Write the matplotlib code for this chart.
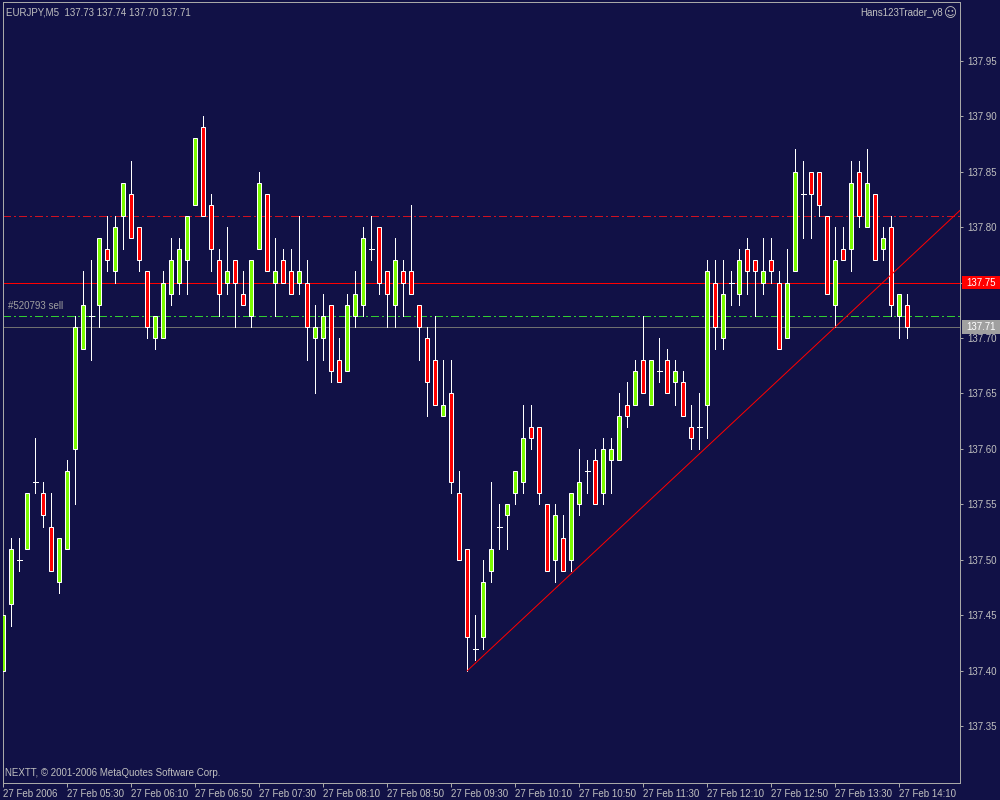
import matplotlib
matplotlib.use("Agg")
import matplotlib.pyplot as plt
from matplotlib.patches import Rectangle

# Colors (MetaTrader style)
bg_color = "#111146"
frame_color = "#A8A8A8"
text_color = "#C0C0C0"
bull_color = "#7CFC00"
bear_color = "#FF0000"
wick_color = "#FFFFFF"
red_line_color = "#FF0000"
green_line_color = "#32CD32"
bid_line_color = "#707070"

# EURJPY M5 bars, 27 Feb 2006 from 04:50
opens = [137.40, 137.46, 137.50, 137.51, 137.57, 137.56, 137.53, 137.48, 137.51, 137.60,
         137.69, 137.72, 137.73, 137.78, 137.76, 137.81, 137.83, 137.80, 137.76, 137.70,
         137.70, 137.74, 137.75, 137.77, 137.82, 137.89, 137.82, 137.77, 137.75, 137.77,
         137.74, 137.72, 137.78, 137.83, 137.75, 137.77, 137.76, 137.75, 137.75, 137.70,
         137.70, 137.73, 137.68, 137.67, 137.72, 137.73, 137.78, 137.80, 137.76, 137.73,
         137.76, 137.76, 137.73, 137.70, 137.68, 137.63, 137.65, 137.56, 137.51, 137.42,
         137.43, 137.49, 137.53, 137.54, 137.56, 137.57, 137.62, 137.62, 137.55, 137.50,
         137.52, 137.50, 137.55, 137.58, 137.59, 137.56, 137.59, 137.59, 137.64, 137.64,
         137.68, 137.64, 137.67, 137.68, 137.66, 137.66, 137.62, 137.62, 137.64, 137.75,
         137.70, 137.75, 137.74, 137.78, 137.77, 137.75, 137.77, 137.75, 137.70, 137.76,
         137.83, 137.85, 137.85, 137.81, 137.73, 137.78, 137.78, 137.85, 137.80, 137.83,
         137.78, 137.80, 137.72, 137.73]
highs = [137.45, 137.52, 137.52, 137.56, 137.61, 137.57, 137.56, 137.52, 137.59, 137.72,
         137.76, 137.77, 137.79, 137.81, 137.81, 137.84, 137.86, 137.80, 137.76, 137.72,
         137.76, 137.79, 137.79, 137.81, 137.88, 137.90, 137.83, 137.78, 137.80, 137.77,
         137.76, 137.77, 137.85, 137.83, 137.79, 137.78, 137.78, 137.81, 137.77, 137.73,
         137.74, 137.73, 137.70, 137.74, 137.76, 137.80, 137.81, 137.80, 137.76, 137.79,
         137.77, 137.82, 137.73, 137.71, 137.72, 137.68, 137.68, 137.58, 137.51, 137.45,
         137.50, 137.57, 137.55, 137.55, 137.58, 137.64, 137.64, 137.62, 137.55, 137.55,
         137.54, 137.56, 137.60, 137.59, 137.60, 137.61, 137.61, 137.65, 137.66, 137.68,
         137.72, 137.68, 137.70, 137.69, 137.68, 137.67, 137.64, 137.65, 137.77, 137.77,
         137.77, 137.76, 137.78, 137.79, 137.77, 137.79, 137.79, 137.76, 137.78, 137.87,
         137.86, 137.85, 137.85, 137.81, 137.80, 137.80, 137.86, 137.86, 137.87, 137.83,
         137.80, 137.81, 137.74, 137.74]
lows = [137.40, 137.44, 137.49, 137.51, 137.56, 137.53, 137.49, 137.47, 137.51, 137.55,
        137.69, 137.68, 137.71, 137.76, 137.75, 137.78, 137.79, 137.76, 137.70, 137.69,
        137.70, 137.73, 137.74, 137.74, 137.82, 137.81, 137.76, 137.72, 137.74, 137.71,
        137.73, 137.71, 137.78, 137.76, 137.72, 137.75, 137.74, 137.74, 137.68, 137.65,
        137.68, 137.66, 137.66, 137.67, 137.71, 137.72, 137.77, 137.74, 137.71, 137.71,
        137.72, 137.74, 137.68, 137.63, 137.64, 137.63, 137.56, 137.50, 137.40, 137.41,
        137.42, 137.48, 137.51, 137.51, 137.55, 137.56, 137.60, 137.55, 137.49, 137.48,
        137.49, 137.49, 137.54, 137.56, 137.55, 137.55, 137.56, 137.59, 137.62, 137.64,
        137.65, 137.64, 137.66, 137.65, 137.64, 137.63, 137.60, 137.60, 137.61, 137.69,
        137.69, 137.73, 137.73, 137.74, 137.72, 137.74, 137.75, 137.69, 137.70, 137.76,
        137.79, 137.79, 137.81, 137.74, 137.71, 137.77, 137.76, 137.80, 137.80, 137.77,
        137.77, 137.72, 137.70, 137.70]
closes = [137.45, 137.51, 137.50, 137.56, 137.57, 137.54, 137.49, 137.52, 137.58, 137.71,
          137.73, 137.72, 137.79, 137.77, 137.80, 137.84, 137.79, 137.77, 137.71, 137.72,
          137.75, 137.77, 137.78, 137.81, 137.88, 137.81, 137.78, 137.74, 137.76, 137.75,
          137.73, 137.77, 137.84, 137.76, 137.76, 137.75, 137.74, 137.76, 137.71, 137.71,
          137.72, 137.67, 137.66, 137.73, 137.74, 137.79, 137.78, 137.75, 137.74, 137.77,
          137.75, 137.74, 137.71, 137.66, 137.64, 137.64, 137.57, 137.50, 137.43, 137.42,
          137.48, 137.51, 137.53, 137.55, 137.58, 137.61, 137.61, 137.56, 137.49, 137.54,
          137.49, 137.56, 137.57, 137.58, 137.55, 137.60, 137.60, 137.63, 137.63, 137.67,
          137.65, 137.68, 137.67, 137.65, 137.67, 137.63, 137.61, 137.62, 137.76, 137.71,
          137.74, 137.75, 137.77, 137.76, 137.76, 137.76, 137.76, 137.69, 137.75, 137.85,
          137.83, 137.83, 137.82, 137.74, 137.77, 137.77, 137.84, 137.81, 137.84, 137.77,
          137.79, 137.73, 137.74, 137.71]

# Time axis: a label every 8 bars (40 minutes)
time_tick_bars = [0, 8, 16, 24, 32, 40, 48, 56, 64, 72, 80, 88, 96, 104, 112]
time_labels = ["27 Feb 2006", "27 Feb 05:30", "27 Feb 06:10", "27 Feb 06:50",
               "27 Feb 07:30", "27 Feb 08:10", "27 Feb 08:50", "27 Feb 09:30",
               "27 Feb 10:10", "27 Feb 10:50", "27 Feb 11:30", "27 Feb 12:10",
               "27 Feb 12:50", "27 Feb 13:30", "27 Feb 14:10"]
price_ticks = [137.35, 137.40, 137.45, 137.50, 137.55, 137.60, 137.65,
               137.70, 137.75, 137.80, 137.85, 137.90, 137.95]

# Horizontal lines / objects
level_dashed_red = 137.81
level_solid_red = 137.75
level_order = 137.72
level_bid = 137.71
order_label = "#520793 sell"
trend_start = (58, 137.40)
trend_through = (104, 137.71)

header = "EURJPY,M5  137.73 137.74 137.70 137.71"
indicator_name = "Hans123Trader_v8"
copyright_text = "NEXTT, \u00a9 2001-2006 MetaQuotes Software Corp."

font = "Liberation Sans"
fs = 7
px = 0.72  # one pixel in points at dpi 100

fig = plt.figure(figsize=(10, 8), dpi=100)
fig.patch.set_facecolor(bg_color)
ax = fig.add_axes([2.5 / 1000, 17.3 / 800, 957.5 / 1000, 780.7 / 800])
ax.set_facecolor(bg_color)

# Axis limits (8 px per bar, 1109 px per 1.00 of price)
ax.set_xlim(-0.1, 119.59)
ax.set_ylim(137.2990, 138.0030)

# Horizontal lines (crisp, one pixel)
plt.rcParams["lines.scale_dashes"] = False
dash_dot = (8 * px, 3 * px, 2 * px, 3 * px)
ax.axhline(level_dashed_red, color="#D01020", lw=1 * px, dashes=dash_dot, antialiased=False, zorder=1)
ax.axhline(level_solid_red, color=red_line_color, lw=1 * px, antialiased=False, zorder=1)
ax.axhline(level_order, color=green_line_color, lw=1 * px, dashes=dash_dot, antialiased=False, zorder=1)
ax.axhline(level_bid, color=bid_line_color, lw=1 * px, antialiased=False, zorder=1)

# Trend line from the low, extended to the right edge
slope = (trend_through[1] - trend_start[1]) / (trend_through[0] - trend_start[0])
x_end = ax.get_xlim()[1]
ax.plot([trend_start[0], x_end],
        [trend_start[1], trend_start[1] + slope * (x_end - trend_start[0])],
        color=red_line_color, lw=1 * px, zorder=4, clip_on=True)

# Candles
body_w = 0.5
for i in range(len(opens)):
    o, h, l, c = opens[i], highs[i], lows[i], closes[i]
    ax.vlines(i, l, h, color=wick_color, lw=1 * px, antialiased=False, zorder=2)
    if o == c:
        ax.hlines(o, i - 0.3, i + 0.3, color=wick_color, lw=1 * px, antialiased=False, zorder=3)
        continue
    fc = bull_color if c > o else bear_color
    rect = Rectangle((i - body_w / 2, min(o, c)), body_w, abs(c - o),
                     fc=fc, ec=wick_color, lw=1 * px, zorder=3)
    ax.add_patch(rect)

# Frame
for side in ["left", "top", "right", "bottom"]:
    ax.spines[side].set_color(frame_color)
    ax.spines[side].set_linewidth(1 * px)

# Price axis on the right
ax.yaxis.tick_right()
ax.set_yticks(price_ticks)
ax.set_yticklabels(["%.2f" % p for p in price_ticks], fontfamily=font, fontsize=fs, color=text_color)
ax.tick_params(axis="y", direction="out", length=3 * px, width=1 * px, color=frame_color, pad=3)

# Time axis
ax.set_xticks(time_tick_bars)
ax.set_xticklabels(time_labels, fontfamily=font, fontsize=fs, color=text_color, ha="left")
ax.tick_params(axis="x", direction="out", length=4 * px, width=1 * px, color=frame_color, pad=1.5)

# Price labels on the axis for the two solid lines
ytr = ax.get_yaxis_transform()
box_x0 = 1.0021
box_w = 0.0397
box_h = 6.8 / 1109.0
for level, fcol, tcol in [(level_solid_red, "#FF0000", "#FFFFFF"), (level_bid, "#A0A0A0", "#FFFFFF")]:
    ax.add_patch(Rectangle((box_x0, level - box_h), box_w, 2 * box_h, transform=ytr,
                           fc=fcol, ec="none", clip_on=False, zorder=5))
    ax.text(box_x0 + 0.005, level, "%.2f" % level, transform=ytr, fontfamily=font, fontsize=fs,
            color=tcol, va="center", ha="left", zorder=6, clip_on=False)

# Texts
ax.text(0.004, 0.993, header, transform=ax.transAxes, fontfamily=font, fontsize=fs,
        color=text_color, va="top", ha="left")
ax.text(0.982, 0.993, indicator_name, transform=ax.transAxes,
        fontfamily=font, fontsize=fs, color=text_color, va="top", ha="right")
ax.text(0.99, 0.994, "\u263A", transform=ax.transAxes,
        fontfamily="DejaVu Sans", fontsize=9, color=text_color, va="top", ha="center")
ax.text(0.006, level_order + 0.004, order_label, transform=ax.get_yaxis_transform(),
        fontfamily=font, fontsize=fs, color="#A0A0A0", va="bottom", ha="left")
ax.text(0.003, 0.006, copyright_text, transform=ax.transAxes, fontfamily=font, fontsize=fs,
        color=text_color, va="bottom", ha="left")

fig.savefig("out.png", dpi=100, facecolor=bg_color)
